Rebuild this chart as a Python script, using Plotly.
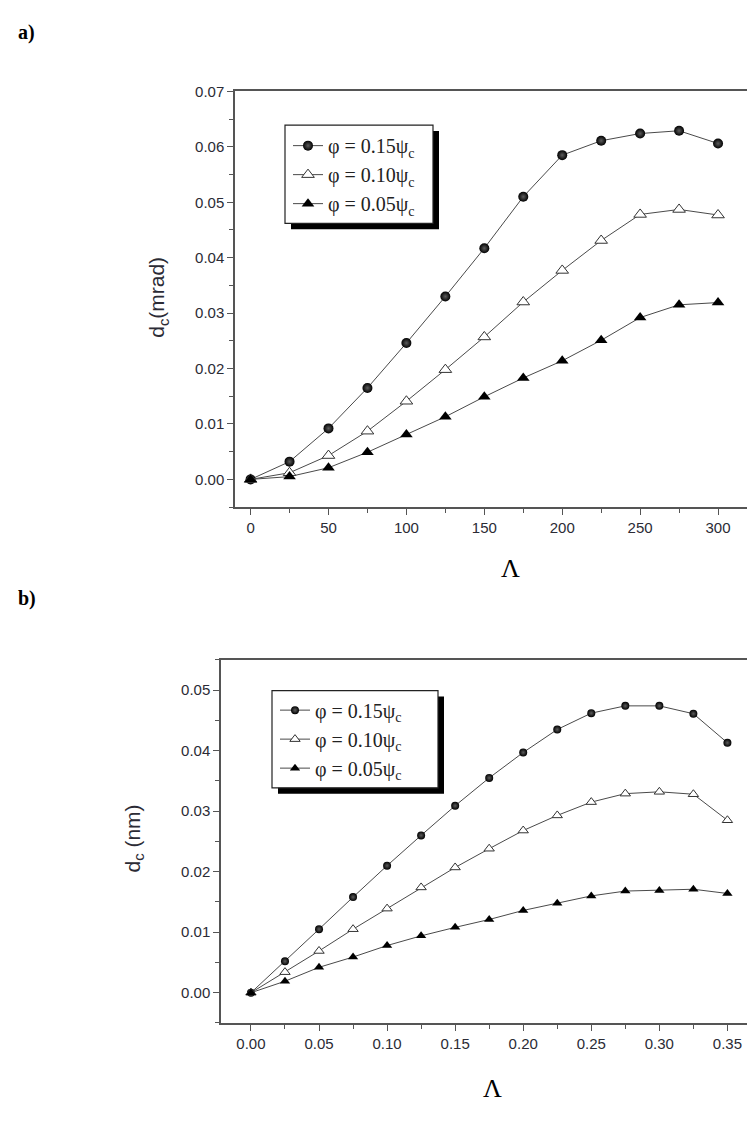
import plotly.graph_objects as go

W, H = 755, 1140

# ---------------- data ----------------
lam_a = [0, 25, 50, 75, 100, 125, 150, 175, 200, 225, 250, 275, 300]
a_015 = [0.0, 0.0032, 0.0092, 0.0165, 0.0246, 0.0330, 0.0417, 0.0510, 0.0585, 0.0611, 0.0624, 0.0629, 0.0606]
a_010 = [0.0, 0.0012, 0.0043, 0.0087, 0.0141, 0.0198, 0.0257, 0.0320, 0.0377, 0.0431, 0.0478, 0.0487, 0.0477]
a_005 = [0.0, 0.0005, 0.0021, 0.0049, 0.0081, 0.0113, 0.0149, 0.0183, 0.0214, 0.0251, 0.0292, 0.0315, 0.0319]

lam_b = [0.0, 0.025, 0.05, 0.075, 0.10, 0.125, 0.15, 0.175, 0.20, 0.225, 0.25, 0.275, 0.30, 0.325, 0.35]
b_015 = [0.0, 0.0052, 0.0105, 0.0158, 0.0210, 0.0260, 0.0309, 0.0355, 0.0397, 0.0435, 0.0462, 0.0474, 0.0474, 0.0461, 0.0413]
b_010 = [0.0, 0.0034, 0.0069, 0.0105, 0.0139, 0.0174, 0.0207, 0.0238, 0.0268, 0.0293, 0.0315, 0.0329, 0.0332, 0.0328, 0.0285]
b_005 = [0.0, 0.0019, 0.0042, 0.0059, 0.0078, 0.0094, 0.0108, 0.0121, 0.0136, 0.0148, 0.0160, 0.0168, 0.0169, 0.0171, 0.0164]

names = ["φ = 0.15ψ<sub>c</sub>", "φ = 0.10ψ<sub>c</sub>", "φ = 0.05ψ<sub>c</sub>"]
yticks_a = [0.00, 0.01, 0.02, 0.03, 0.04, 0.05, 0.06, 0.07]
yticks_b = [0.00, 0.01, 0.02, 0.03, 0.04, 0.05]
xticks_a = [0, 50, 100, 150, 200, 250, 300]
xticks_b = [0.00, 0.05, 0.10, 0.15, 0.20, 0.25, 0.30, 0.35]


def fx(p):
    return p / W


def fy(p):
    return 1 - p / H


LINE = "#4a4a4a"
AX = "#555555"
TXT = "#2b2b35"

fig = go.Figure()


def add_series(x, ys, xa, ya, leg, msz_c, msz_t):
    styles = [
        dict(symbol="circle", color="black", size=msz_c,
             gradient=dict(type="radial", color="#5c5c5c"),
             line=dict(width=0)),
        dict(symbol="triangle-up", color="white", size=msz_t,
             line=dict(color="#333", width=1)),
        dict(symbol="triangle-up", color="black", size=msz_t,
             line=dict(color="black", width=0)),
    ]
    for i, (y, st) in enumerate(zip(ys, styles)):
        fig.add_trace(go.Scatter(
            x=x, y=y, mode="lines+markers", name=names[i],
            line=dict(color=LINE, width=1), marker=st,
            xaxis=xa, yaxis=ya, legend=leg, legendgroup=leg + str(i),
            showlegend=True, cliponaxis=False))


add_series(lam_a, [a_015, a_010, a_005], "x", "y", "legend", 10, 11)
add_series(lam_b, [b_015, b_010, b_005], "x2", "y2", "legend2", 8, 9)

tickfont = dict(family="Liberation Sans, Arial", size=15, color=TXT)
axcommon = dict(showgrid=False, zeroline=False, showline=True, linecolor=AX,
                linewidth=1.5, mirror=True, ticks="outside", ticklen=6,
                tickwidth=1.2, tickcolor=AX, tickfont=tickfont)

fig.update_layout(
    width=W, height=H, margin=dict(l=0, r=0, t=0, b=0),
    paper_bgcolor="white", plot_bgcolor="white",
    xaxis=dict(domain=[fx(227), fx(749)], range=[-10, 325], anchor="y",
               tickvals=xticks_a, minor=dict(ticks="outside", dtick=25, tick0=0,
                                             ticklen=4, tickcolor=AX),
               **axcommon),
    yaxis=dict(domain=[fy(494), fy(75)], range=[-0.005, 0.07], anchor="x",
               tickvals=yticks_a, tickformat=".2f",
               minor=dict(ticks="outside", dtick=0.005, tick0=0, ticklen=4,
                          tickcolor=AX),
               **axcommon),
    xaxis2=dict(domain=[fx(213), fx(748)], range=[-0.022, 0.371], anchor="y2",
                tickvals=xticks_b, tickformat=".2f",
                minor=dict(ticks="outside", dtick=0.025, tick0=0, ticklen=4,
                           tickcolor=AX),
                **axcommon),
    yaxis2=dict(domain=[fy(1014), fy(648)], range=[-0.005, 0.055], anchor="x2",
                tickvals=yticks_b, tickformat=".2f",
                minor=dict(ticks="outside", dtick=0.005, tick0=0, ticklen=4,
                           tickcolor=AX),
                **axcommon),
    legend=dict(x=fx(280), y=fy(110), xanchor="left", yanchor="top",
                bgcolor="rgba(0,0,0,0)", borderwidth=0, tracegroupgap=0,
                font=dict(family="Liberation Serif, Times New Roman", size=20, color="#222"),
                itemwidth=30),
    legend2=dict(x=fx(267), y=fy(679), xanchor="left", yanchor="top",
                 bgcolor="rgba(0,0,0,0)", borderwidth=0, tracegroupgap=0,
                 font=dict(family="Liberation Serif, Times New Roman", size=20, color="#222"),
                 itemwidth=30),
)

# legend boxes with drop shadows
shapes = []
for (l, t, r, b) in [(277, 109, 425, 208), (264, 679, 430, 777)]:
    shapes.append(dict(type="rect", xref="paper", yref="paper",
                       x0=fx(l + 6), x1=fx(r + 6), y0=fy(b + 6), y1=fy(t + 6),
                       fillcolor="black", line=dict(width=0), layer="below"))
    shapes.append(dict(type="rect", xref="paper", yref="paper",
                       x0=fx(l), x1=fx(r), y0=fy(b), y1=fy(t),
                       fillcolor="white", line=dict(color="#222", width=1.2),
                       layer="below"))
fig.update_layout(shapes=shapes)

serif_b = dict(family="Liberation Serif, Times New Roman", size=20, color="black")
ann = [
    dict(text="<b>a)</b>", x=fx(8), y=fy(16), xanchor="left", yanchor="middle",
         font=serif_b),
    dict(text="<b>b)</b>", x=fx(8), y=fy(586), xanchor="left", yanchor="middle",
         font=serif_b),
    dict(text="Λ", x=fx(502), y=fy(556), xanchor="center", yanchor="middle",
         font=dict(family="Liberation Serif, Times New Roman", size=26, color="black")),
    dict(text="Λ", x=fx(484), y=fy(1080), xanchor="center", yanchor="middle",
         font=dict(family="Liberation Serif, Times New Roman", size=26, color="black")),
    dict(text="d<sub>c</sub>(mrad)", x=fx(150), y=fy(283), xanchor="center",
         yanchor="middle", textangle=-90,
         font=dict(family="Liberation Sans, Arial", size=21, color=TXT)),
    dict(text="d<sub>c</sub> (nm)", x=fx(126), y=fy(828), xanchor="center",
         yanchor="middle", textangle=-90,
         font=dict(family="Liberation Sans, Arial", size=21, color=TXT)),
]
for a in ann:
    a.update(xref="paper", yref="paper", showarrow=False)
fig.update_layout(annotations=ann)

fig.write_html("out.html")
